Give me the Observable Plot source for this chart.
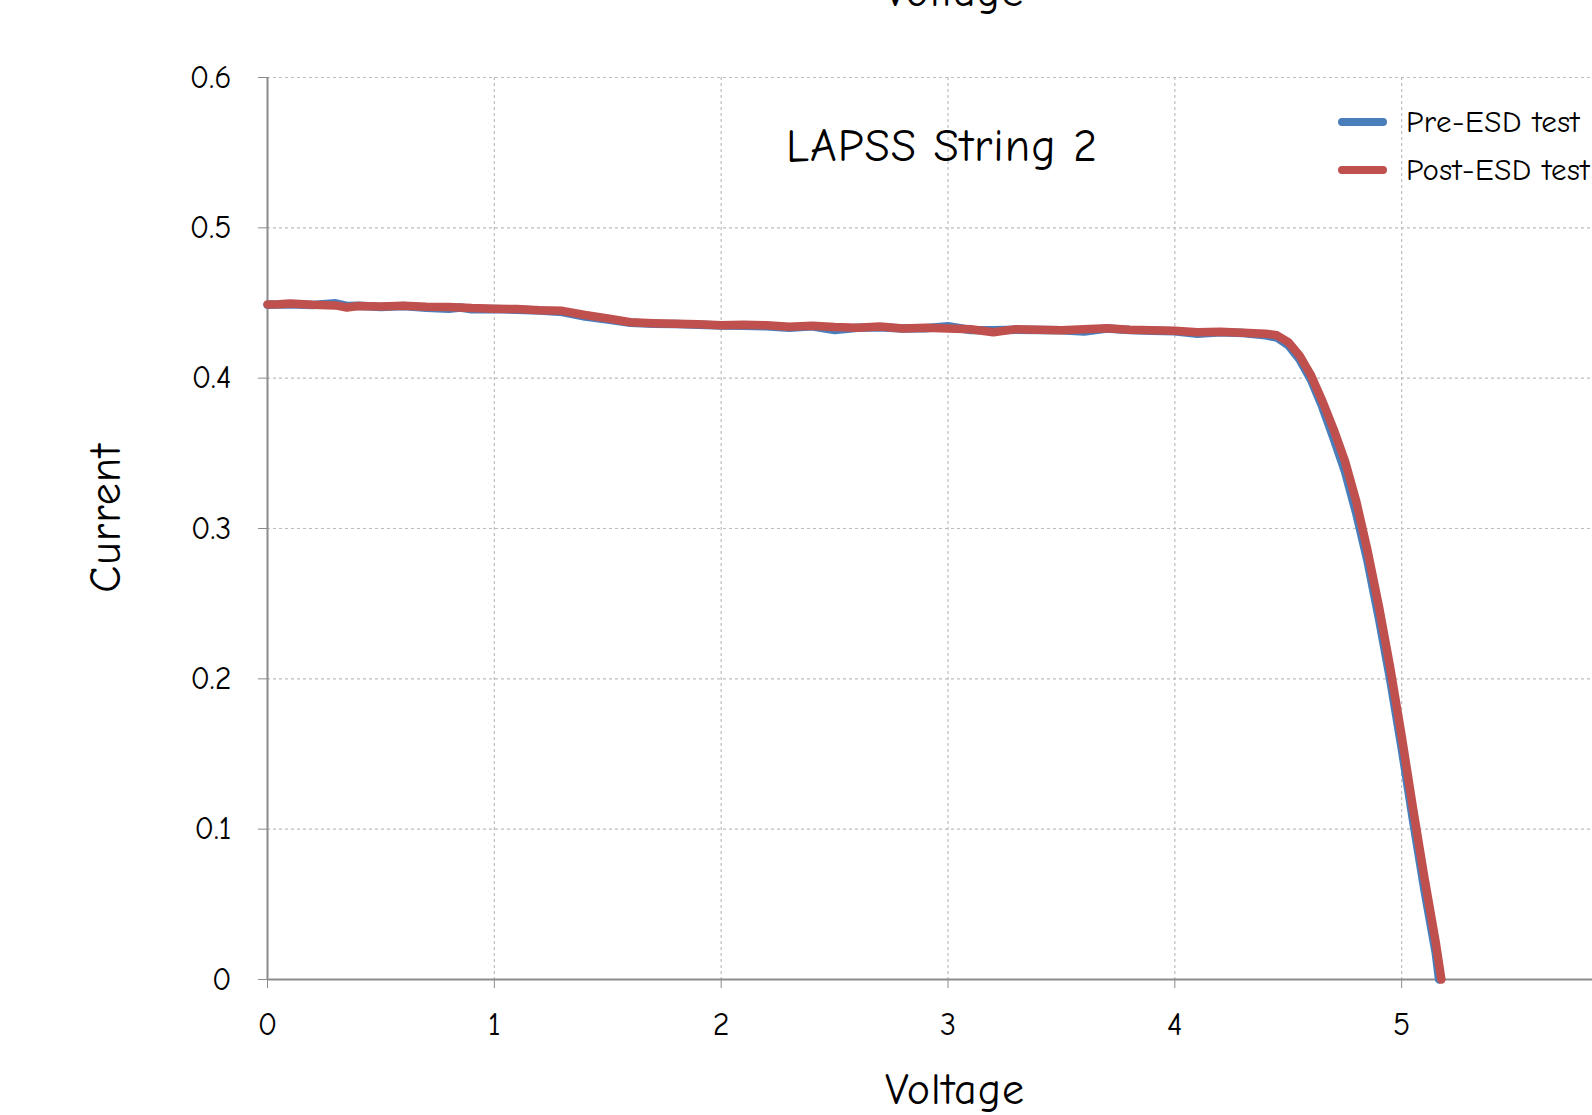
<!DOCTYPE html>
<html>
<head>
<meta charset="utf-8">
<script src="https://cdn.jsdelivr.net/npm/d3@7"></script>
<script src="https://cdn.jsdelivr.net/npm/@observablehq/plot@0.6"></script>
<style>
  html, body { margin: 0; padding: 0; background: #fff; overflow: hidden; }
  body { width: 1592px; height: 1115px; position: relative; font-family: "Comic Sans MS", "Comic Neue", Lato, "DejaVu Sans", sans-serif; }
  #chart { position: absolute; left: 0; top: 0; }
  #chart svg { max-width: none !important; }
  .ov { position: absolute; color: #000; white-space: nowrap; }
  .leg { position: absolute; display: flex; align-items: center; font-size: 31px; white-space: nowrap; letter-spacing: 0.5px; }
  .leg span.sw { display: inline-block; width: 49px; height: 8px; border-radius: 4px; margin-right: 19px; }
</style>
</head>
<body>
<div id="chart"></div>
<div class="ov" id="topcut" style="left:954px; top:-34px; font-size:44px; letter-spacing:1px; transform:translateX(-50%);">Voltage</div>
<div class="ov" id="title" style="left:942px; top:120px; font-size:46px; letter-spacing:1px; transform:translateX(-50%);">LAPSS String 2</div>
<div class="ov" id="xlabel" style="left:955px; top:1064px; font-size:44px; letter-spacing:1px; transform:translateX(-50%);">Voltage</div>
<div class="ov" id="ylabel" style="left:105px; top:518px; font-size:44px; letter-spacing:1px; transform:translate(-50%,-50%) rotate(-90deg);">Current</div>
<div id="legend"></div>
<script>
// ---- data ----
const seriesNames = ["Pre-ESD test", "Post-ESD test"];
const seriesColors = ["#4a7ebb", "#c0504d"];

const preVoltage = [0,0.1,0.2,0.3,0.35,0.4,0.5,0.6,0.7,0.8,0.85,0.9,1.0,1.1,1.2,1.3,1.4,1.5,1.6,1.7,1.8,1.9,2.0,2.1,2.2,2.3,2.4,2.5,2.6,2.7,2.8,2.9,3.0,3.1,3.2,3.3,3.4,3.5,3.6,3.7,3.8,3.9,4.0,4.1,4.2,4.3,4.4,4.45,4.5,4.55,4.6,4.65,4.7,4.75,4.8,4.85,4.9,4.95,5.0,5.05,5.1,5.15,5.165];
const preCurrent = [0.4488,0.4492,0.4486,0.4498,0.4480,0.4482,0.4474,0.4480,0.4468,0.4462,0.4470,0.4458,0.4460,0.4455,0.4450,0.4440,0.4410,0.4390,0.4368,0.4362,0.4360,0.4356,0.4350,0.4348,0.4345,0.4335,0.4345,0.4320,0.4335,0.4338,0.4330,0.4332,0.4345,0.4320,0.4318,0.4322,0.4320,0.4318,0.4310,0.4330,0.4320,0.4315,0.4312,0.4295,0.4305,0.4300,0.4285,0.4270,0.4220,0.4125,0.3990,0.3810,0.3600,0.3380,0.3100,0.2780,0.2400,0.1990,0.1540,0.1060,0.0600,0.0180,0.0];

const postVoltage = [0,0.05,0.1,0.2,0.3,0.35,0.4,0.5,0.6,0.7,0.8,0.9,1.0,1.1,1.2,1.3,1.4,1.5,1.6,1.7,1.8,1.9,2.0,2.1,2.2,2.3,2.4,2.5,2.6,2.7,2.8,2.9,3.0,3.1,3.2,3.3,3.4,3.5,3.6,3.7,3.8,3.9,4.0,4.1,4.2,4.3,4.4,4.45,4.5,4.55,4.6,4.65,4.7,4.75,4.8,4.85,4.9,4.95,5.0,5.05,5.1,5.15,5.175];
const postCurrent = [0.4490,0.4492,0.4496,0.4488,0.4484,0.4470,0.4480,0.4476,0.4482,0.4475,0.4474,0.4466,0.4462,0.4460,0.4452,0.4448,0.4420,0.4398,0.4372,0.4366,0.4362,0.4358,0.4352,0.4356,0.4352,0.4342,0.4348,0.4340,0.4336,0.4344,0.4330,0.4336,0.4330,0.4325,0.4305,0.4326,0.4322,0.4318,0.4325,0.4332,0.4322,0.4318,0.4316,0.4305,0.4308,0.4302,0.4296,0.4285,0.4240,0.4150,0.4020,0.3850,0.3660,0.3450,0.3180,0.2850,0.2480,0.2070,0.1620,0.1140,0.0680,0.0250,0.0];

const xTicks = [0,1,2,3,4,5];
const xTickLabels = ["0","1","2","3","4","5"];
const xGrid = [1,2,3,4,5,6];
const yTicks = [0,0.1,0.2,0.3,0.4,0.5,0.6];
const yTickLabels = ["0","0.1","0.2","0.3","0.4","0.5","0.6"];

// ---- build table ----
const rows = [];
preVoltage.forEach((v, i) => rows.push({series: seriesNames[0], V: v, I: preCurrent[i]}));
postVoltage.forEach((v, i) => rows.push({series: seriesNames[1], V: v, I: postCurrent[i]}));

const font = '"Comic Sans MS", "Comic Neue", Lato, "DejaVu Sans", sans-serif';

const chart = Plot.plot({
  width: 1640,
  height: 1115,
  marginLeft: 267,
  marginRight: 12,
  marginTop: 77,
  marginBottom: 136,
  style: {fontFamily: font, fontSize: "32px", color: "#000", background: "transparent", maxWidth: "none"},
  x: {domain: [0, 6]},
  y: {domain: [0, 0.6]},
  marks: [
    Plot.gridX(xGrid, {stroke: "#bdbdbd", strokeOpacity: 1, strokeDasharray: "3,3", strokeWidth: 1.2}),
    Plot.gridY(yTicks.filter(d => d > 0), {stroke: "#bdbdbd", strokeOpacity: 1, strokeDasharray: "3,3", strokeWidth: 1.2}),
    Plot.ruleX([0], {stroke: "#8c8c8c", strokeWidth: 2}),
    Plot.ruleY([0], {stroke: "#8c8c8c", strokeWidth: 2}),
    Plot.axisX({ticks: xTicks, tickSize: 9, tickPadding: 24, stroke: "#8c8c8c", label: null, fontSize: 32,
                tickFormat: d => xTickLabels[xTicks.indexOf(d)]}),
    Plot.axisY({ticks: yTicks, tickSize: 9, tickPadding: 27, stroke: "#8c8c8c", label: null, fontSize: 32,
                tickFormat: d => yTickLabels[yTicks.indexOf(d)]}),
    Plot.line(rows.filter(d => d.series === seriesNames[0]), {x: "V", y: "I", stroke: seriesColors[0], strokeWidth: 8.5, strokeLinejoin: "round", strokeLinecap: "round"}),
    Plot.line(rows.filter(d => d.series === seriesNames[1]), {x: "V", y: "I", stroke: seriesColors[1], strokeWidth: 8.5, strokeLinejoin: "round", strokeLinecap: "round"})
  ]
});
document.getElementById("chart").appendChild(chart);

// legend
const leg = document.getElementById("legend");
const legendTops = [122, 170];
seriesNames.forEach((name, i) => {
  const d = document.createElement("div");
  d.className = "leg";
  d.style.left = "1338px";
  d.style.top = (legendTops[i] - 20) + "px";
  d.style.height = "40px";
  d.innerHTML = `<span class="sw" style="background:${seriesColors[i]}"></span><span>${name}</span>`;
  leg.appendChild(d);
});
</script>
</body>
</html>
